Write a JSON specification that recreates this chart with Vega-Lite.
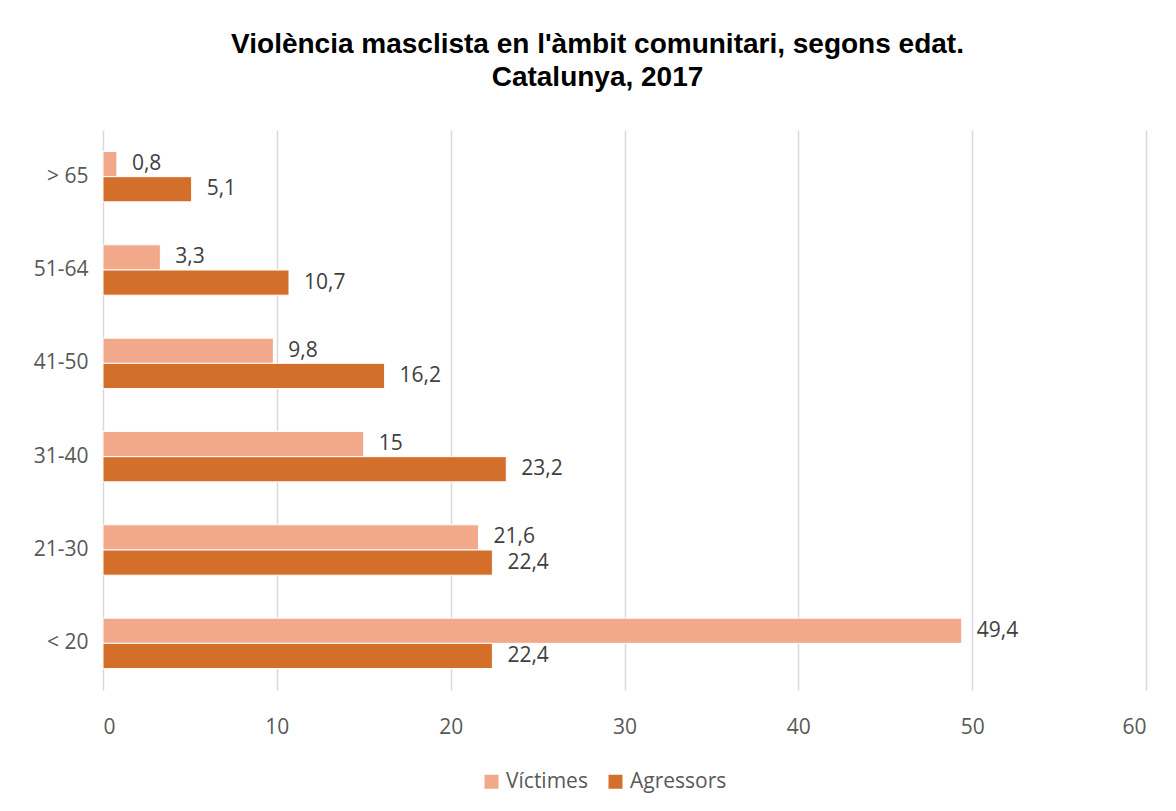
{
  "$schema": "https://vega.github.io/schema/vega-lite/v6.json",
  "width": 1043,
  "height": 560,
  "autosize": {"type": "none"},
  "padding": {"left": 103, "top": 130, "right": 30, "bottom": 121},
  "background": "white",
  "title": {
    "text": ["Violència masclista en l'àmbit comunitari, segons edat.", "Catalunya, 2017"],
    "font": "Liberation Sans",
    "fontSize": 28,
    "fontWeight": "bold",
    "color": "#000000",
    "anchor": "middle",
    "dx": -27,
    "offset": 38,
    "lineHeight": 33
  },
  "data": {
    "values": [
      {"edat": "> 65", "serie": "Víctimes", "valor": 0.8},
      {"edat": "> 65", "serie": "Agressors", "valor": 5.1},
      {"edat": "51-64", "serie": "Víctimes", "valor": 3.3},
      {"edat": "51-64", "serie": "Agressors", "valor": 10.7},
      {"edat": "41-50", "serie": "Víctimes", "valor": 9.8},
      {"edat": "41-50", "serie": "Agressors", "valor": 16.2},
      {"edat": "31-40", "serie": "Víctimes", "valor": 15},
      {"edat": "31-40", "serie": "Agressors", "valor": 23.2},
      {"edat": "21-30", "serie": "Víctimes", "valor": 21.6},
      {"edat": "21-30", "serie": "Agressors", "valor": 22.4},
      {"edat": "< 20", "serie": "Víctimes", "valor": 49.4},
      {"edat": "< 20", "serie": "Agressors", "valor": 22.4}
    ]
  },
  "encoding": {
    "y": {
      "field": "edat",
      "type": "nominal",
      "sort": ["> 65", "51-64", "41-50", "31-40", "21-30", "< 20"],
      "scale": {"paddingInner": 0.46, "paddingOuter": 0.23},
      "axis": {
        "title": null,
        "domain": false,
        "ticks": false,
        "labelPadding": 15,
        "labelFont": "Open Sans",
        "labelFontSize": 21,
        "labelColor": "#595959"
      }
    },
    "yOffset": {
      "field": "serie",
      "type": "nominal",
      "sort": ["Víctimes", "Agressors"]
    },
    "x": {
      "field": "valor",
      "type": "quantitative",
      "scale": {"domain": [0, 60], "nice": false},
      "axis": {
        "title": null,
        "domain": false,
        "ticks": false,
        "values": [0, 10, 20, 30, 40, 50, 60],
        "grid": true,
        "gridColor": "#d9d9d9",
        "gridWidth": 1.5,
        "labelPadding": 26,
        "labelFont": "Open Sans",
        "labelFontSize": 21,
        "labelColor": "#595959"
      }
    }
  },
  "layer": [
    {
      "mark": {"type": "bar", "stroke": "white", "strokeWidth": 1},
      "encoding": {
        "color": {
          "field": "serie",
          "type": "nominal",
          "sort": ["Víctimes", "Agressors"],
          "scale": {"domain": ["Víctimes", "Agressors"], "range": ["#F1A88B", "#D36E2B"]},
          "legend": {
            "title": null,
            "orient": "none",
            "direction": "horizontal",
            "legendX": 378,
            "legendY": 641,
            "symbolType": "square",
            "symbolSize": 196,
            "symbolStrokeWidth": 0,
            "labelFont": "Open Sans",
            "labelFontSize": 21,
            "labelColor": "#595959",
            "columnPadding": 17,
            "labelOffset": 4
          }
        }
      }
    },
    {
      "mark": {"type": "text", "align": "left", "baseline": "middle", "dx": 15, "font": "Open Sans", "fontSize": 21, "color": "#404040"},
      "encoding": {
        "text": {"field": "valor", "type": "quantitative", "format": ".1~f"}
      }
    }
  ],
  "config": {
    "view": {"stroke": null},
    "locale": {
      "number": {"decimal": ",", "thousands": ".", "grouping": [3], "currency": ["", " €"]}
    }
  }
}
